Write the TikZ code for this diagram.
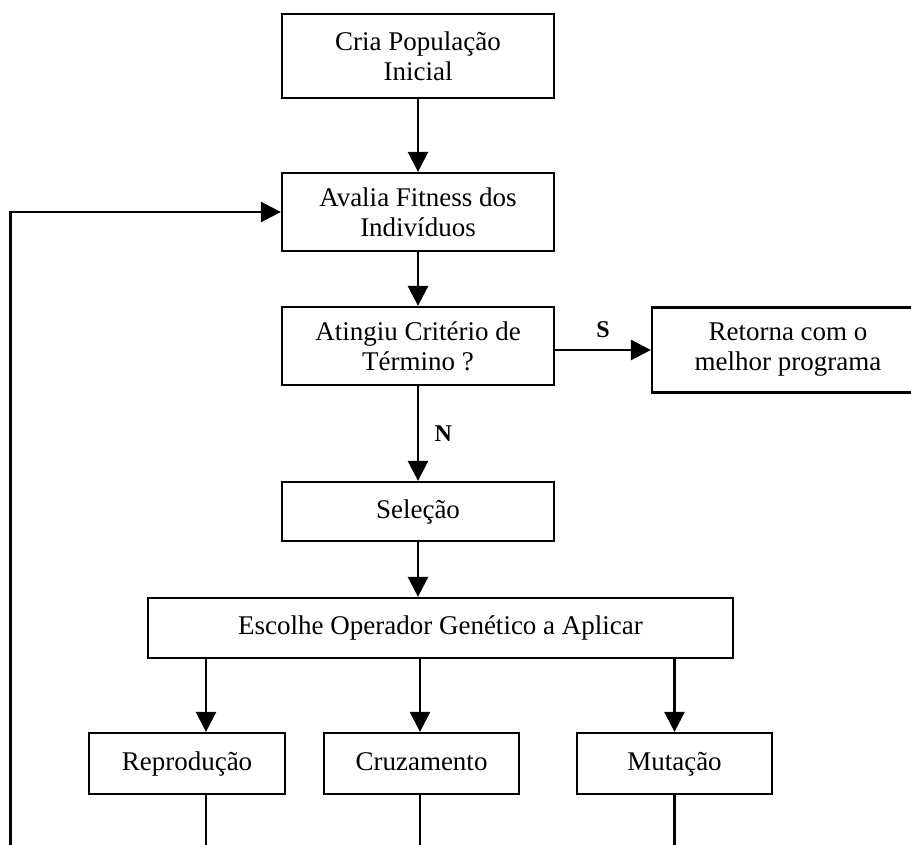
\documentclass[tikz,border=0pt]{standalone}
\usepackage{fontspec}
\setmainfont{Liberation Serif}
\usetikzlibrary{arrows.meta}
\begin{document}
\begin{tikzpicture}[x=1pt,y=-1pt,
  box/.style={draw, line width=2.2pt, minimum width=272pt, inner sep=0pt,
              align=center, font=\fontsize{27}{30}\selectfont},
  onebox/.style={box, text height=19pt, text depth=6pt},
  flow/.style={line width=2.5pt, -{Triangle[length=20pt,width=20pt]}},
  wire/.style={line width=2.5pt},
  yn/.style={font=\fontsize{24}{28}\selectfont\bfseries}]
\useasboundingbox (0,0) rectangle (911,845);
\begin{scope}
\clip (0,0) rectangle (911,845);

% main column
\node[box, minimum height=84pt] (cria)    at (418,56)    {Cria População\\Inicial};
\node[box, minimum height=78pt] (avalia)  at (418,212)   {Avalia Fitness dos\\Indivíduos};
\node[box, minimum height=78pt] (atingiu) at (418,346)   {Atingiu Critério de\\Término ?};
\node[box, minimum height=85pt] (retorna) at (788,350)   {Retorna com o\\melhor programa};
\node[onebox, minimum height=59pt] (selecao) at (418,511.5) {Seleção};
\node[onebox, minimum height=60pt, minimum width=585pt] (escolhe) at (440.5,628)
  {Escolhe Operador Genético a Aplicar};

% genetic operators
\node[onebox, minimum height=61pt, minimum width=196pt] (repro) at (187,763.5)   {Reprodução};
\node[onebox, minimum height=61pt, minimum width=195pt] (cruza) at (421.5,763.5) {Cruzamento};
\node[onebox, minimum height=61pt, minimum width=195pt] (muta)  at (674.5,763.5) {Mutação};

\coordinate (floor) at (0,850);
\coordinate (loopfoot) at (10.5,850);

% connectors
\draw[flow] (cria) -- (avalia);
\draw[flow] (avalia) -- (atingiu);
\draw[flow] (atingiu) -- node[yn, right=12pt, pos=0.5] (nlabel) {N} (selecao);
\draw[flow] (atingiu.east |- retorna.west) -- node[yn, above=8pt, pos=0.5] (slabel) {S} (retorna.west);
\draw[flow] (selecao.south) -- (selecao.south |- escolhe.north);

\draw[flow] ([xshift=19pt]repro.north |- escolhe.south) -- ([xshift=19pt]repro.north);
\draw[flow] ([xshift=-1.5pt]cruza.north |- escolhe.south) -- ([xshift=-1.5pt]cruza.north);
\draw[flow] (muta.north |- escolhe.south) -- (muta.north);

\draw[wire] ([xshift=19pt]repro.south) -- ([xshift=19pt]repro.south |- floor);
\draw[wire] ([xshift=-1.5pt]cruza.south) -- ([xshift=-1.5pt]cruza.south |- floor);
\draw[wire] (muta.south) -- (muta.south |- floor);

% loop back to the fitness evaluation
\draw[flow] (loopfoot) |- (avalia.west);
\end{scope}
\end{tikzpicture}
\end{document}
